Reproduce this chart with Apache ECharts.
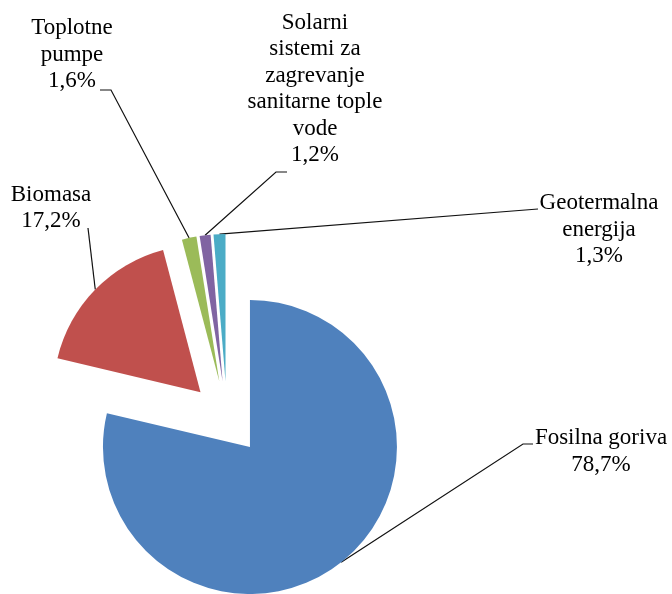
<!DOCTYPE html>
<html>
<head>
<meta charset="utf-8">
<title>Udeo izvora energije</title>
<script src="https://cdn.jsdelivr.net/npm/echarts@6/dist/echarts.min.js"></script>
<style>
  html, body { margin: 0; padding: 0; background: #fff; }
  #chart { width: 672px; height: 594px; }
</style>
</head>
<body>
<div id="chart"></div>
<script>
// ---------------------------------------------------------------------------
// podaci
// ---------------------------------------------------------------------------
const categories = [
  "Fosilna goriva",
  "Biomasa",
  "Toplotne\npumpe",
  "Solarni\nsistemi za\nzagrevanje\nsanitarne tople\nvode",
  "Geotermalna\nenergija",
];
const shares = [78.7, 17.2, 1.6, 1.2, 1.3];
const colors = ["#4f81bd", "#c0504d", "#9bbb59", "#8064a2", "#4bacc6"];

// ---------------------------------------------------------------------------
// raspored (izvucena pita, labele sa linijama)
// ---------------------------------------------------------------------------
const PIE_CENTER = [227, 418];
const PIE_RADIUS = 147;
const EXPLODE = 37;
// centar labele, pa prelom linije i kraj linije
const LABEL_POS = [
  [601, 451.5, 523, 444, 533, 444],
  [51, 208, 88, 228, 88, 228],
  [72, 54.5, 111, 90, 100, 90],
  [315, 89, 276, 172, 287, 172],
  [599, 229.5, 538, 209, 538, 209],
];
const FONT = "'Liberation Serif', 'Times New Roman', serif";

const total = shares.reduce((a, b) => a + b, 0);
let acc = 0;
const midAngles = shares.map((v) => {
  const m = ((acc + v / 2) / total) * 2 * Math.PI;
  acc += v;
  return m;
});

function fmtLabel(p) {
  const lines = p.name.split("\n");
  lines.push(p.value.toFixed(1).replace(".", ",") + "%");
  return lines.map((l) => "{c|" + l + "}").join("\n");
}

function makeSeries(i) {
  const center = [
    PIE_CENTER[0] + EXPLODE * Math.sin(midAngles[i]),
    PIE_CENTER[1] - EXPLODE * Math.cos(midAngles[i]),
  ];
  return {
    type: "pie",
    silent: true,
    center: center,
    radius: PIE_RADIUS,
    startAngle: 90,
    clockwise: true,
    avoidLabelOverlap: false,
    emphasis: { disabled: true },
    itemStyle: { borderWidth: 0 },
    label: {
      show: true,
      position: "outside",
      formatter: fmtLabel,
      width: 200,
      overflow: "none",
      color: "#000",
      fontFamily: FONT,
      fontSize: 23,
      lineHeight: 26.5,
      rich: {
        c: { align: "center", color: "#000", fontFamily: FONT, fontSize: 23, lineHeight: 26.5 },
      },
    },
    labelLine: { show: true, smooth: false, lineStyle: { color: "#111", width: 1.2 } },
    labelLayout: (p) => {
      if (p.dataIndex !== i) return {};
      const pos = LABEL_POS[i];
      const arc = p.labelLinePoints ? p.labelLinePoints[0] : [pos[2], pos[3]];
      return {
        x: pos[0],
        y: pos[1],
        align: "center",
        verticalAlign: "middle",
        labelLinePoints: [arc, [pos[2], pos[3]], [pos[4], pos[5]]],
      };
    },
    data: shares.map((v, j) => ({
      name: categories[j],
      value: v,
      itemStyle: { color: j === i ? colors[j] : "rgba(0,0,0,0)" },
      label: { show: j === i },
      labelLine: { show: j === i },
    })),
  };
}

const chart = echarts.init(document.getElementById("chart"));
chart.setOption({
  animation: false,
  backgroundColor: "#fff",
  series: shares.map((v, i) => makeSeries(i)),
});
</script>
</body>
</html>
